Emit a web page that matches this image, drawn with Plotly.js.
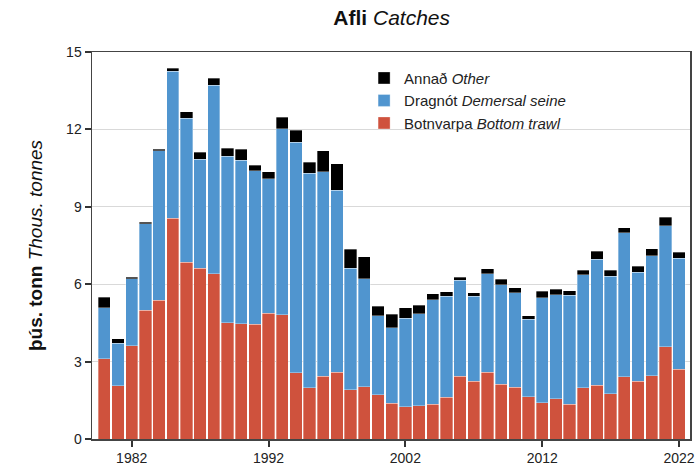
<!DOCTYPE html>
<html>
<head>
<meta charset="utf-8">
<script src="https://cdn.plot.ly/plotly-3.0.1.min.js"></script>
<style>html,body{margin:0;padding:0;background:#fff;}#chart{width:697px;height:469px;}</style>
</head>
<body>
<div id="chart"></div>
<script>
const years = [1980,1981,1982,1983,1984,1985,1986,1987,1988,1989,1990,1991,1992,1993,1994,1995,1996,1997,1998,1999,2000,2001,2002,2003,2004,2005,2006,2007,2008,2009,2010,2011,2012,2013,2014,2015,2016,2017,2018,2019,2020,2021,2022];
const bottomTrawl = [3.12,2.06,3.61,4.99,5.37,8.56,6.85,6.61,6.40,4.50,4.47,4.45,4.87,4.81,2.56,1.98,2.44,2.59,1.91,2.02,1.71,1.38,1.25,1.28,1.35,1.61,2.44,2.23,2.59,2.13,2.01,1.64,1.40,1.56,1.35,1.98,2.09,1.75,2.41,2.23,2.46,3.57,2.71];
const demersalSeine = [1.96,1.66,2.60,3.36,5.80,5.70,5.58,4.24,7.31,6.45,6.33,5.95,5.21,7.22,8.95,8.33,7.91,7.06,4.71,4.19,3.07,2.94,3.43,3.58,4.05,3.92,3.71,3.30,3.81,3.85,3.65,3.01,4.08,4.04,4.22,4.39,4.88,4.56,5.58,4.24,4.65,4.70,4.29];
const other = [0.42,0.17,0.06,0.05,0.07,0.11,0.25,0.27,0.27,0.31,0.44,0.22,0.28,0.44,0.46,0.41,0.82,1.02,0.74,0.85,0.37,0.51,0.41,0.32,0.23,0.18,0.12,0.13,0.20,0.22,0.20,0.12,0.24,0.21,0.18,0.18,0.30,0.24,0.19,0.23,0.27,0.32,0.23];
const seriesNames = ['Botnvarpa <i>Bottom trawl</i>','Dragnót <i>Demersal seine</i>','Annað <i>Other</i>'];
const yTicks = [0,3,6,9,12,15];
const xTicks = [1982,1992,2002,2012,2022];

const FONT = 'Liberation Sans, Arial, Helvetica, sans-serif';
const mk = (y, name, color) => ({
  type: 'bar', x: years, y: y, name: name,
  marker: {color: color, line: {color: 'rgba(255,255,255,0.55)', width: 0.6}},
  hoverinfo: 'x+y'
});
const data = [
  mk(bottomTrawl, seriesNames[0], '#cf523d'),
  mk(demersalSeine, seriesNames[1], '#5095cf'),
  mk(other, seriesNames[2], '#000000')
];
const layout = {
  width: 697, height: 469,
  margin: {l: 92, r: 7, t: 52, b: 30, pad: 0},
  paper_bgcolor: '#fff', plot_bgcolor: '#fff',
  barmode: 'stack', bargap: 0.1,
  font: {family: FONT, size: 14, color: '#222'},
  title: {text: '<b>Afli</b> <i>Catches</i>', font: {family: FONT, size: 21, color: '#111'}, x: 0.562, xanchor: 'center', y: 0.962, yanchor: 'middle'},
  xaxis: {
    range: [1979.1, 2022.8], tickmode: 'array', tickvals: xTicks, ticktext: xTicks.map(String),
    ticks: 'outside', ticklen: 6, tickwidth: 2, tickcolor: '#333',
    showline: true, mirror: true, linecolor: '#444', linewidth: 1.5,
    showgrid: false, zeroline: false, tickfont: {size: 14, color: '#222'}
  },
  yaxis: {
    range: [0, 15], tickmode: 'array', tickvals: yTicks, ticktext: yTicks.map(String),
    ticks: 'outside', ticklen: 6, tickwidth: 2, tickcolor: '#333',
    showline: true, mirror: true, linecolor: '#444', linewidth: 1.5,
    showgrid: true, gridcolor: '#d9d9d9', gridwidth: 1, zeroline: false,
    tickfont: {size: 14, color: '#222'},
    title: {text: '<b>þús. tonn</b> <i>Thous. tonnes</i>', font: {family: FONT, size: 19, color: '#111'}, standoff: 18}
  },
  legend: {
    x: 0.455, y: 0.975, xanchor: 'left', yanchor: 'top',
    traceorder: 'reversed', bgcolor: 'rgba(0,0,0,0)',
    font: {family: FONT, size: 15, color: '#222'}, tracegroupgap: 0, itemwidth: 30
  },
  showlegend: true
};
Plotly.newPlot('chart', data, layout, {displayModeBar: false, staticPlot: true});
</script>
</body>
</html>
